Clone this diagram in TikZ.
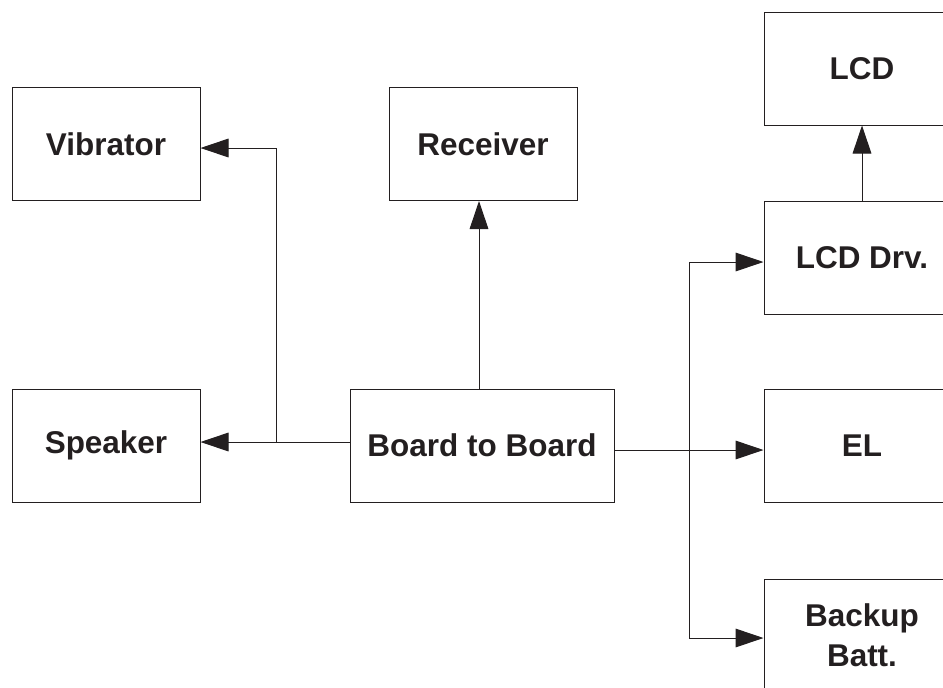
\documentclass[tikz,border=0pt]{standalone}
\usepackage{fontspec}
\setmainfont{Liberation Sans}
\usepackage{tikz}
\usetikzlibrary{arrows.meta,positioning,calc}
\definecolor{ink}{RGB}{35,31,32}

\tikzset{
  blockbox/.style={draw=ink, line width=0.75pt, text=ink, inner sep=0pt,
    minimum width=141pt, minimum height=84.75pt, align=center,
    font=\fontsize{23.6}{30}\selectfont\bfseries},
  wire/.style={draw=ink, line width=0.75pt},
  feed/.style={wire, -{Triangle[length=21pt,width=14pt]}}
}

\begin{document}
\begin{tikzpicture}[x=0.75pt,y=0.75pt,yscale=-1,xscale=1]
\useasboundingbox (0,0) rectangle (943,687);
\clip (0,0) rectangle (943,687);

% Blocks
\node [blockbox] (vib) at (106,144) {Vibrator};
\node [blockbox] (recv) at (483,144) {Receiver};
\node [blockbox] (spk) at (106,445.5) {Speaker};
\node [blockbox, minimum width=198pt] (btb) at (482,445.5) {Board to Board};
\node [blockbox, minimum width=147pt] (lcd) at (862,68.5) {LCD};
\node [blockbox, minimum width=147pt] (lcddrv) at (862,257.5) {LCD Drv.};
\node [blockbox, minimum width=147pt] (el) at (862,446) {EL};
\node [blockbox, minimum width=147pt] (batt) at (862,635.5) {Backup\\Batt.};

% Junctions
\coordinate (jleft) at (276,442);
\coordinate (jvib) at (276,148);
\coordinate (jright) at (689,450);
\coordinate (jtop) at (689,262);
\coordinate (jbot) at (689,638);

%Straight Lines
\draw [feed] (btb.west |- jleft) -- (spk.east |- jleft);
\draw [wire] (jleft) -- (jvib);
\draw [feed] (jvib) -- (vib.east |- jvib);
\draw [feed] (btb.north -| 479,0) -- (recv.south -| 479,0);
\draw [feed] (btb.east |- jright) -- (el.west |- jright);
\draw [wire] (jtop) -- (jbot);
\draw [feed] (jtop) -- (lcddrv.west |- jtop);
\draw [feed] (jbot) -- (batt.west |- jbot);
\draw [feed] (lcddrv.north) -- (lcd.south);
\end{tikzpicture}
\end{document}
